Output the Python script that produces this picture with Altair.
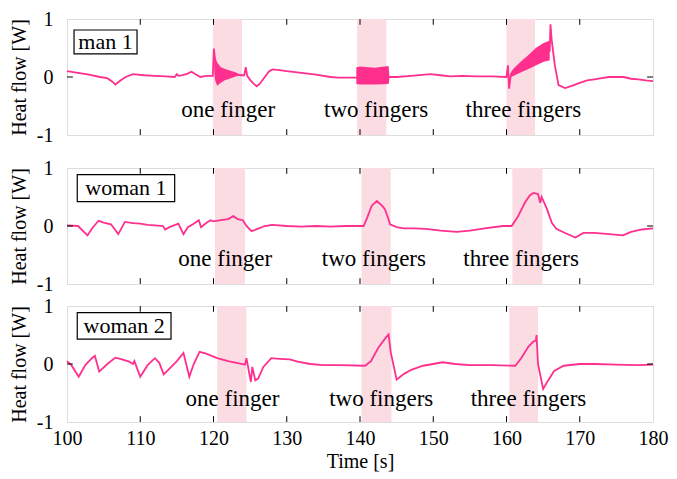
import altair as alt
import pandas as pd

FONT = "Liberation Serif"
LINE = "#ff2f8e"
SHADE = "#fcdce3"

# ---------------- data ----------------
# panel 1: man 1
m1_t = [100.0, 101.5, 103.0, 104.5, 105.5, 106.2, 106.6, 107.3, 108.0, 109.0, 110.5, 112.0, 113.5,
        114.7, 115.0, 115.2, 115.6, 116.3, 117.0, 117.5, 118.2, 119.0, 119.9, 120.05, 120.3, 120.6,
        121.0, 122.0, 123.0, 123.8, 124.2, 124.4, 124.6, 125.0, 125.5, 125.9, 126.3, 127.0, 127.6,
        128.1, 129.0, 130.0, 132.0, 134.0, 136.0, 137.0, 139.4, 144.1, 145.0, 147.0, 149.6, 151.0,
        152.3, 154.0, 156.0, 158.0, 160.0, 160.2, 160.35, 160.6, 161.0, 163.0, 165.0, 165.9, 166.0,
        166.2, 166.6, 167.1, 168.0, 169.0, 170.0, 171.0, 172.0, 173.0, 174.0, 175.0, 176.0, 177.0,
        178.0, 179.0, 180.0]
m1_v = [0.10, 0.07, 0.04, 0.00, -0.02, -0.08, -0.13, -0.06, 0.00, 0.05, 0.03, 0.02, 0.01,
        0.00, 0.05, 0.02, 0.03, 0.05, 0.09, 0.05, 0.00, 0.02, 0.02, 0.49, 0.20, 0.05,
        0.03, 0.03, 0.04, 0.03, 0.03, 0.17, 0.02, -0.05, -0.12, -0.16, -0.12, 0.00, 0.10,
        0.13, 0.12, 0.10, 0.07, 0.04, 0.00, -0.01, -0.01, 0.00, 0.00, 0.02, 0.05, 0.03,
        0.01, 0.02, 0.01, 0.01, 0.00, 0.20, -0.20, 0.05, 0.10, 0.25, 0.42, 0.45, 0.91,
        0.60, 0.20, -0.14, -0.19, -0.15, -0.10, -0.06, -0.04, -0.02, 0.00, 0.00, 0.00, -0.03,
        -0.04, -0.06, -0.07]
# oscillating bands of man 1 (lower / upper envelope)
m1_band_t = [120.1, 120.2, 120.5, 121.0, 121.6, 122.0, 123.0, 123.5, None,
             139.5, 140.0, 142.0, 143.9, 144.0, None,
             160.6, 161.0, 162.0, 163.0, 164.0, 165.0, 165.9]
m1_band_lo = [0.10, -0.05, -0.15, -0.10, -0.05, -0.04, 0.01, 0.02, None,
              -0.12, -0.13, -0.13, -0.12, -0.05, None,
              0.00, 0.02, 0.08, 0.14, 0.20, 0.26, 0.29]
m1_band_hi = [0.45, 0.35, 0.25, 0.17, 0.14, 0.12, 0.08, 0.05, None,
              0.17, 0.18, 0.16, 0.19, 0.05, None,
              0.08, 0.15, 0.27, 0.38, 0.50, 0.58, 0.63]

# panel 2: woman 1
w1_t = [100.0, 101.5, 102.8, 103.5, 104.3, 105.0, 106.0, 107.0, 107.9, 109.0, 110.0, 111.0, 112.0,
        113.1, 113.4, 114.0, 115.2, 115.9, 116.5, 117.3, 118.0, 118.3, 119.0, 119.6, 120.0, 121.0,
        122.0, 122.7, 123.3, 124.0, 124.5, 125.2, 126.0, 127.0, 128.0, 130.0, 132.0, 134.0, 136.0,
        138.0, 140.5, 141.0, 141.6, 142.3, 143.0, 143.4, 143.8, 144.1, 145.0, 146.0, 147.3, 149.0,
        151.0, 153.2, 155.0, 157.0, 159.5, 160.7, 161.5, 162.5, 163.2, 163.7, 164.3, 164.6, 164.8,
        165.5, 166.2, 166.8, 168.0, 169.4, 170.5, 172.0, 174.0, 175.9, 177.0, 178.5, 180.0]
w1_v = [0.01, 0.00, -0.16, -0.03, 0.09, 0.06, 0.03, -0.14, 0.07, 0.05, 0.04, 0.02, 0.01,
        0.00, -0.06, -0.02, 0.04, -0.14, -0.02, 0.04, 0.10, -0.02, 0.05, 0.10, 0.08, 0.10,
        0.12, 0.17, 0.12, 0.10, 0.00, -0.09, -0.05, 0.00, 0.02, 0.00, -0.01, 0.00, -0.01,
        0.00, 0.00, 0.15, 0.35, 0.43, 0.35, 0.29, 0.15, 0.03, -0.02, -0.04, -0.04, -0.05,
        -0.08, -0.10, -0.08, -0.04, 0.00, 0.00, 0.15, 0.40, 0.53, 0.57, 0.55, 0.40, 0.50,
        0.30, 0.05, -0.05, -0.12, -0.20, -0.12, -0.12, -0.14, -0.16, -0.10, -0.06, -0.04]

# panel 3: woman 2
w2_t = [100.0, 100.6, 101.6, 102.5, 103.4, 103.8, 104.4, 105.5, 106.6, 107.5, 108.5, 109.0, 109.2,
        110.0, 111.0, 112.0, 112.6, 113.2, 114.0, 115.0, 115.9, 116.7, 117.3, 118.1, 119.0, 120.5,
        122.0, 123.5, 124.3, 124.5, 125.1, 125.3, 125.7, 126.1, 126.8, 127.9, 129.0, 130.4, 131.5,
        133.2, 135.0, 137.3, 140.7, 141.5, 142.5, 143.5, 143.9, 144.2, 145.0, 146.0, 147.0, 148.6,
        151.3, 153.0, 155.0, 158.0, 161.2, 162.0, 163.0, 163.7, 164.0, 164.1, 164.3, 165.0, 165.6,
        166.5, 167.8, 170.0, 172.0, 175.0, 178.0, 180.0]
w2_v = [0.05, -0.02, -0.22, -0.02, 0.10, 0.14, -0.13, 0.00, 0.11, 0.08, 0.04, 0.00, 0.05,
        -0.22, -0.02, 0.10, 0.02, -0.18, -0.08, 0.05, 0.19, -0.22, 0.00, 0.21, 0.18, 0.10,
        0.05, 0.01, -0.01, 0.10, -0.31, -0.05, -0.28, -0.25, -0.05, 0.10, 0.09, 0.08, 0.04,
        0.00, -0.02, -0.02, -0.03, 0.05, 0.28, 0.45, 0.51, 0.20, -0.27, -0.17, -0.10, -0.03,
        0.03, 0.00, -0.02, -0.02, -0.03, 0.10, 0.30, 0.39, 0.40, 0.50, 0.00, -0.43, -0.30,
        -0.12, -0.03, 0.00, 0.00, -0.01, -0.02, -0.01]

# shaded intervals (start, end) per panel
shade_start = [[119.9, 139.6, 160.0], [120.2, 140.2, 160.8], [120.5, 140.2, 160.4]]
shade_end = [[123.9, 143.6, 163.9], [124.3, 144.2, 164.9], [124.5, 144.3, 164.3]]

# annotation texts and their positions (data units)
finger_labels = ["one finger", "two fingers", "three fingers"]
finger_x = [[122.0, 142.2, 162.3], [121.6, 141.9, 162.0], [122.6, 142.9, 163.0]]
finger_y = [-0.57, -0.57, -0.61]

panel_names = ["man 1", "woman 1", "woman 2"]
name_box_x0 = [100.96, 101.4, 101.4]
name_box_x1 = [109.56, 114.7, 114.2]
name_box_y0 = [0.81, 0.885, 0.885]
name_box_y1 = [0.40, 0.42, 0.43]

x_ticks = [110, 120, 130, 140, 150, 160, 170]
x_labels = [100, 110, 120, 130, 140, 150, 160, 170, 180]
y_labels = [-1, 0, 1]


def panel(i, t, v, band=None, bottom=False):
    xs = alt.Scale(domain=[100, 180], nice=False, zero=False)
    ys = alt.Scale(domain=[-1, 1], nice=False, zero=False)
    if bottom:
        xaxis = alt.Axis(values=x_labels, title="Time [s]", ticks=False, domain=False, grid=False,
                         labelExpr="'' + datum.value", labelFlush=False, labelOverlap=False,
                         labelFont=FONT, labelFontSize=20, labelColor="black", labelPadding=6,
                         titleFont=FONT, titleFontSize=20, titleFontWeight="normal",
                         titleColor="black", titlePadding=3)
    else:
        xaxis = None
    yaxis = alt.Axis(values=y_labels, labelExpr="'' + datum.value", title="Heat flow [W]",
                     ticks=False, domain=False, grid=False, labelFlush=False, labelOverlap=False,
                     labelFont=FONT, labelFontSize=20, labelColor="black", labelPadding=14,
                     titleFont=FONT, titleFontSize=20, titleFontWeight="normal",
                     titleColor="black", titlePadding=7)

    def X(f):
        return alt.X(f, type="quantitative", scale=xs, axis=xaxis)

    def Y(f):
        return alt.Y(f, type="quantitative", scale=ys, axis=yaxis)

    sh = pd.DataFrame({"s": shade_start[i], "e": shade_end[i]})
    shade = alt.Chart(sh).mark_rect(color=SHADE).encode(x=X("s"), x2="e")

    line_df = pd.DataFrame({"t": t, "v": v})
    line = alt.Chart(line_df).mark_line(color=LINE, strokeWidth=1.8).encode(
        x=X("t"), y=Y("v"), order=alt.Order("t:Q"))

    layers = [shade]
    if band is not None:
        bt, blo, bhi = band
        seg = []
        s = 0
        for k in range(len(bt)):
            if bt[k] is None:
                s += 1
                seg.append(None)
            else:
                seg.append(s)
        bd = pd.DataFrame({"t": bt, "lo": blo, "hi": bhi, "seg": seg}).dropna()
        area = alt.Chart(bd).mark_area(color=LINE, opacity=1, strokeWidth=0).encode(
            x=X("t"), y=Y("lo"), y2="hi", detail="seg:N")
        layers.append(area)
    layers.append(line)

    tk = pd.DataFrame({"x": x_ticks})
    top_t = alt.Chart(tk).mark_rule(color="black", strokeWidth=1).encode(
        x=X("x"), y=Y("a"), y2="b").transform_calculate(a="1", b="0.9")
    bot_t = alt.Chart(tk).mark_rule(color="black", strokeWidth=1).encode(
        x=X("x"), y=Y("a"), y2="b").transform_calculate(a="-1", b="-0.9")
    yt = pd.DataFrame({"x0": [100.0, 179.2], "x1": [100.8, 180.0], "y": [0.0, 0.0]})
    y_t = alt.Chart(yt).mark_rule(color="black", strokeWidth=1).encode(x=X("x0"), x2="x1", y=Y("y"))
    layers += [top_t, bot_t, y_t]

    fl = pd.DataFrame({"x": finger_x[i], "y": [finger_y[i]] * 3, "label": finger_labels})
    ftext = alt.Chart(fl).mark_text(font=FONT, fontSize=23, color="black").encode(
        x=X("x"), y=Y("y"), text="label:N")

    nb = pd.DataFrame({"x0": [name_box_x0[i]], "x1": [name_box_x1[i]],
                       "y0": [name_box_y0[i]], "y1": [name_box_y1[i]],
                       "name": [panel_names[i]]})
    nrect = alt.Chart(nb).mark_rect(fill="white", stroke="black", strokeWidth=1.2).encode(
        x=X("x0"), x2="x1", y=Y("y0"), y2="y1")
    ntext = alt.Chart(nb).mark_text(font=FONT, fontSize=22, color="black").encode(
        x=X("xc"), y=Y("yc"), text="name:N").transform_calculate(
        xc="(datum.x0 + datum.x1) / 2", yc="(datum.y0 + datum.y1) / 2")
    layers += [ftext, nrect, ntext]

    return alt.layer(*layers).properties(width=586, height=116)


p1 = panel(0, m1_t, m1_v, band=(m1_band_t, m1_band_lo, m1_band_hi))
p2 = panel(1, w1_t, w1_v)
p3 = panel(2, w2_t, w2_v, bottom=True)

upper = alt.vconcat(p1, p2, spacing=11)
chart = alt.vconcat(upper, p3, spacing=0).properties(
    padding={"left": 0, "top": 0, "right": 0, "bottom": 0}
).configure_view(stroke="#222222", strokeWidth=1.5).configure(background="white")

chart.save("out.html", embed_options={"renderer": "svg", "actions": False})
